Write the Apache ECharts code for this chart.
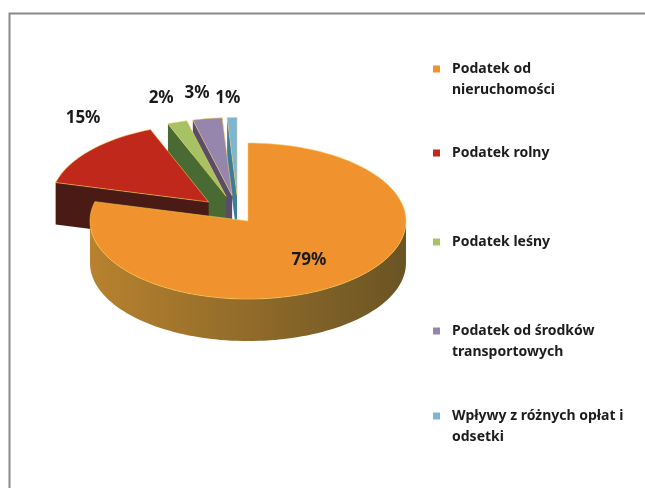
<!DOCTYPE html>
<html><head><meta charset="utf-8">
<script src="https://cdn.jsdelivr.net/npm/echarts@6/dist/echarts.min.js"></script>
<style>html,body{margin:0;padding:0;background:#fff}#c{width:645px;height:488px}</style>
</head><body><div id="c"></div>
<script>
// ---- data ----
const categories = ['Podatek od nieruchomości', 'Podatek rolny', 'Podatek leśny', 'Podatek od środków transportowych', 'Wpływy z różnych opłat i odsetki'];
const values = [79, 15, 2, 3, 1];
const legendLines = [['Podatek od', 'nieruchomości'], ['Podatek rolny'], ['Podatek leśny'], ['Podatek od środków', 'transportowych'], ['Wpływy z różnych opłat i', 'odsetki']];

// ---- style / layout ----
const topColors = ['#F0922E', '#C0281C', '#A6C264', '#9686AE', '#7CB6D4'];
const faceColors = ['#8E6A2A', '#4A1B15', '#4A6A33', '#5A4D6C', '#3E7C98'];
const wallGrad = [['#B8822F', '#6A5424'], ['#7A2416', '#3A1410'], ['#5A7A3A', '#3A5228'], ['#6A5C7E', '#4A3F58'], ['#4A8AA8', '#2E6580']];
const explode = [0.1, 0.25, 0.25, 0.25, 0.25];
const labelFactor = [[0.63, 0.63], [1.06, 1.63], [1.33, 1.33], [1.42, 1.33], [1.86, 1.25]];
const PIE = { cx: 238.3, cy: 214.9, rx: 158, ry: 78, h: 42 };
const legendTops = [[62, 83], [146], [235], [324, 345], [409, 430]];

const total = values.reduce((a, b) => a + b, 0);
const rad = d => d * Math.PI / 180;

function makeRender(i) {
  return function (params, api) {
    let start = 0;
    for (let k = 0; k < i; k++) start += values[k];
    const v = api.value(0);
    const a0 = start / total * 360, a1 = (start + v) / total * 360;
    const mid = (a0 + a1) / 2;
    const e = explode[i];
    const cx = PIE.cx + e * Math.sin(rad(mid)) * PIE.rx;
    const cy = PIE.cy - e * Math.cos(rad(mid)) * PIE.ry;
    const pt = (ang, dy) => [cx + PIE.rx * Math.sin(rad(ang)), cy - PIE.ry * Math.cos(rad(ang)) + (dy || 0)];
    const arc = (s, t, dy) => {
      const n = Math.max(2, Math.ceil((t - s) / 2));
      const r = [];
      for (let j = 0; j <= n; j++) r.push(pt(s + (t - s) * j / n, dy));
      return r;
    };
    const centroidY = pts => pts.reduce((s, p) => s + p[1], 0) / pts.length;
    const children = [];
    // outer wall (front-facing part only)
    const ws = Math.max(a0, 90), we = Math.min(a1, 270);
    if (we > ws) {
      const pts = arc(ws, we, 0).concat(arc(ws, we, PIE.h).reverse());
      children.push({
        type: 'polygon', shape: { points: pts }, z2: 300 + centroidY(pts),
        style: { fill: new echarts.graphic.LinearGradient(0, 0, 1, 0, [{ offset: 0, color: wallGrad[i][0] }, { offset: 1, color: wallGrad[i][1] }]) }
      });
    }
    // radial faces
    const face = ang => {
      const o = pt(ang, 0);
      const pts = [[cx, cy], o, [o[0], o[1] + PIE.h], [cx, cy + PIE.h]];
      children.push({ type: 'polygon', shape: { points: pts }, z2: centroidY(pts), style: { fill: faceColors[i] } });
    };
    if (Math.sin(rad(a0)) < -1e-6) face(a0);
    if (Math.sin(rad(a1)) > 1e-6) face(a1);
    // top face
    const topPts = [[cx, cy]].concat(arc(a0, a1, 0));
    children.push({ type: 'polygon', shape: { points: topPts }, z2: 1000 + i, style: { fill: topColors[i], stroke: 'rgba(245,205,80,0.55)', lineWidth: 1 } });
    // label
    const lf = labelFactor[i];
    children.push({
      type: 'text', z2: 2000,
      style: {
        text: Math.round(v / total * 100) + '%',
        x: cx + lf[0] * Math.sin(rad(mid)) * PIE.rx,
        y: cy - lf[1] * Math.cos(rad(mid)) * PIE.ry,
        fill: '#1a1a1a', fontFamily: 'Noto Sans', fontWeight: 'bold', fontSize: 17,
        align: 'center', verticalAlign: 'middle'
      }
    });
    return { type: 'group', children: children };
  };
}

const legends = [];
legendLines.forEach((lines, i) => {
  lines.forEach((line, j) => {
    legends.push({
      data: [categories[i]], left: 433, top: legendTops[i][j], padding: 0,
      orient: 'vertical', icon: 'rect', itemWidth: 7, itemHeight: 7,
      itemStyle: j ? { opacity: 0 } : {},
      selectedMode: false,
      formatter: () => line,
      textStyle: { fontFamily: 'Noto Sans', fontWeight: 'bold', fontSize: 14, color: '#1c1c1c', padding: [0, 0, 0, 7] }
    });
  });
});

const chart = echarts.init(document.getElementById('c'));
chart.setOption({
  animation: false,
  backgroundColor: '#ffffff',
  graphic: [{ type: 'rect', left: 7, top: 11, shape: { width: 700, height: 600 }, style: { fill: 'none', stroke: '#8a8a8a', lineWidth: 2 }, z: 0 }],
  legend: legends,
  series: categories.map((name, i) => ({
    type: 'custom', name: name, coordinateSystem: 'none',
    itemStyle: { color: topColors[i] },
    data: [values[i]],
    renderItem: makeRender(i)
  }))
});
</script>
</body></html>
